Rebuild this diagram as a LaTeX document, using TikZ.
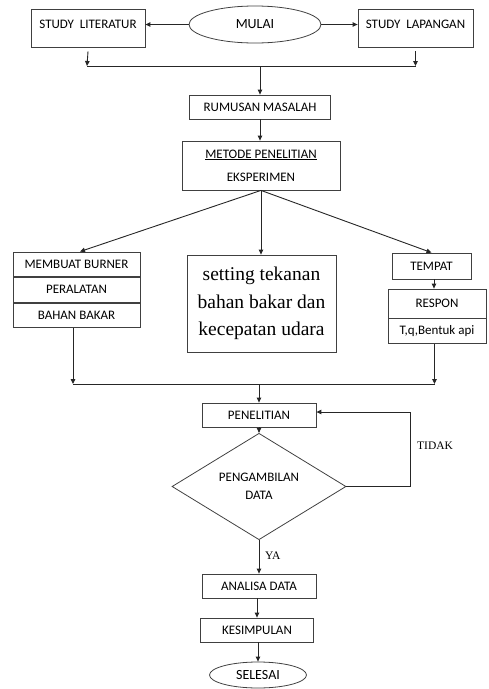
\documentclass[tikz,border=0pt]{standalone}
\usepackage{fontspec}
\setmainfont{Carlito}
\newfontfamily\serifrm{Liberation Serif}
\usetikzlibrary{shapes.geometric,arrows.meta,calc}
\begin{document}
\begin{tikzpicture}[x=1pt,y=-1pt,
  box/.style={draw=black!75, line width=0.8pt, rectangle, inner sep=0pt, align=center,
    font=\fontsize{13}{15}\selectfont},
  oval/.style={draw=black!75, line width=0.8pt, ellipse, inner sep=0pt,
    font=\fontsize{14}{16}\selectfont},
  dec/.style={draw=black!75, line width=0.8pt, diamond, inner sep=0pt, align=center,
    font=\fontsize{13}{15}\selectfont},
  arr/.style={-{Triangle[length=5pt,width=4.5pt]}, line width=0.9pt, draw=black!85},
  ln/.style={line width=0.9pt, draw=black!85},
  lbl/.style={font=\serifrm\fontsize{11.5}{13}\selectfont, inner sep=0pt}]
\useasboundingbox (0,0) rectangle (488,689);

% top row
\node[oval, minimum width=132, minimum height=37] (mulai) at (255,24.5) {MULAI};
\node[box, minimum width=114, text height=19pt, text depth=19pt] (lit) at (88,28) {STUDY\ \ LITERATUR};
\node[box, minimum width=115, text height=19pt, text depth=19pt] (lap) at (415.5,28) {STUDY\ \ LAPANGAN};
\draw[arr] (mulai.west) -- (mulai.west -| lit.east);
\draw[arr] (mulai.east) -- (mulai.east -| lap.west);

\coordinate (jl) at (87,66);
\coordinate (jr) at (415.5,66);
\coordinate (jc) at (260,66);
\draw[arr] ([yshift=-4pt]lit.south) -- (jl);
\draw[arr] ([yshift=-4pt]lap.south) -- (jr);
\draw[ln] (jl) -- (jr);

\node[box, minimum width=141, minimum height=24] (rum) at (260,107) {RUMUSAN MASALAH};
\draw[arr] (jc) -- (rum.north);

\node[box, minimum width=158, minimum height=49] (met) at (261,165.5)
  {\underline{METODE PENELITIAN}\\[8pt]EKSPERIMEN};
\draw[arr] (rum.south) -- (rum.south |- met.north);

% three branches
\node[box, minimum width=127, minimum height=24.67] (m1) at (76.5,264.3) {MEMBUAT BURNER};
\node[box, minimum width=127, minimum height=24.67, anchor=north] (m2) at (m1.south) {PERALATAN};
\node[box, minimum width=127, minimum height=24.67, anchor=north] (m3) at (m2.south) {BAHAN BAKAR};

\node[box, minimum width=149, minimum height=97,
  font=\serifrm\fontsize{19.5}{27.5}\selectfont] (set) at (261.5,303.5)
  {setting tekanan\\bahan bakar dan\\kecepatan udara};

\node[box, minimum width=79, minimum height=26] (tem) at (431.5,266) {TEMPAT};
\node[box, minimum width=98, minimum height=29] (r1) at (437,303.5) {RESPON};
\node[box, minimum width=98, minimum height=25, anchor=north] (r2) at (r1.south) {T,q,Bentuk api};

\draw[arr] (met.south) -- ([xshift=3.5pt]m1.north);
\draw[arr] (met.south) -- (met.south |- set.north);
\draw[arr] (met.south) -- (tem.north);
\draw[arr] (tem.south -| 434,0) -- (r1.north -| 434,0);

\coordinate (kl) at (73,384);
\coordinate (kr) at (434.5,384);
\coordinate (kc) at (259,384);
\draw[arr] (m3.south -| kl) -- (kl);
\draw[arr] (r2.south -| kr) -- (kr);
\draw[ln] (kl) -- (kr);

\node[box, minimum width=114, minimum height=24] (pen) at (259,415) {PENELITIAN};
\draw[arr] (kc) -- (pen.north);

\node[dec, minimum width=174, minimum height=75] (dia) at (259,486.5)
  {PENGAMBILAN\\[3pt]DATA};
\draw[arr] (pen.south) -- (dia.north);

\coordinate (tk) at (410,486.5);
\draw[arr] (dia.east) -- (tk) |- ([yshift=3pt]pen.east);
\node[lbl, anchor=west] (tidak) at (417,446) {TIDAK};

\node[box, minimum width=114, minimum height=24] (ana) at (259,586) {ANALISA DATA};
\draw[arr] (dia.south) -- (ana.north);
\node[lbl, anchor=west] (ya) at (265,556) {YA};

\node[box, minimum width=113, minimum height=24] (kes) at (257,630) {KESIMPULAN};
\draw[arr] (ana.south -| kes.north) -- (kes.north);

\node[oval, minimum width=97, minimum height=26] (sel) at (258,675) {SELESAI};
\draw[arr] (kes.south -| sel.north) -- (sel.north);
\end{tikzpicture}
\end{document}
